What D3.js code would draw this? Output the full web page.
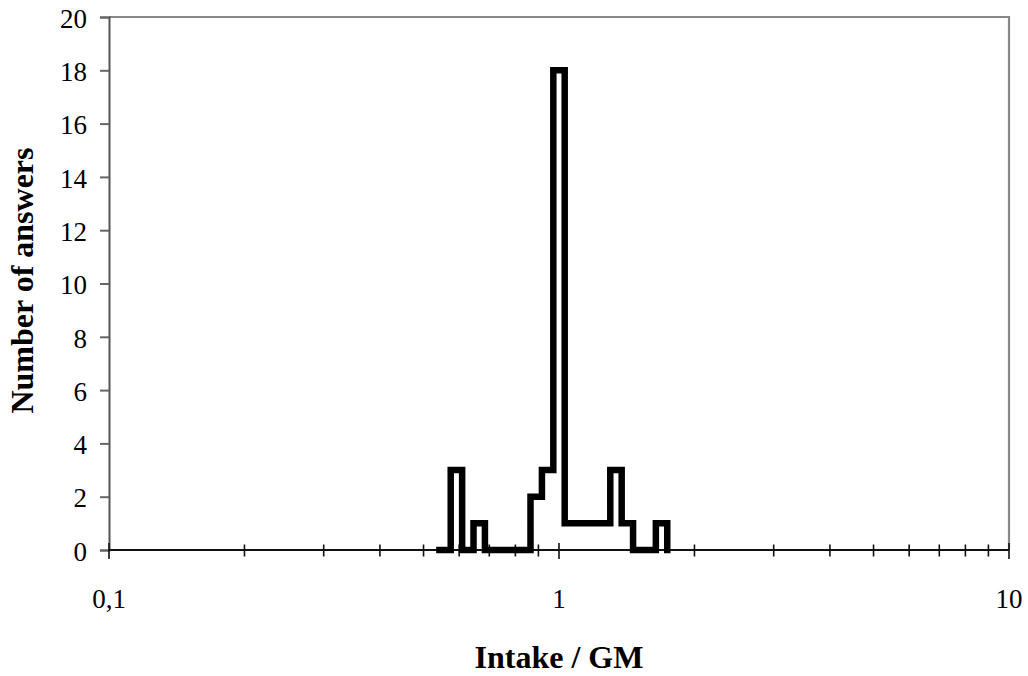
<!DOCTYPE html>
<html>
<head>
<meta charset="utf-8">
<script src="https://cdn.jsdelivr.net/npm/d3@7"></script>
<style>
  html, body { margin: 0; padding: 0; background: #fff; }
  svg { display: block; font-family: "Liberation Serif", "Times New Roman", serif; }
</style>
</head>
<body>
<svg id="chart" width="1028" height="676"></svg>
<script>
// Bin edges of the Intake / GM ratio (log-spaced bins, ratio ~1.06)
const binEdges = [0.5424, 0.5746, 0.6092, 0.6457, 0.6845, 0.7256, 0.7692, 0.8153,
  0.8643, 0.9163, 0.9713, 1.0296, 1.0913, 1.1569, 1.2264, 1.3000, 1.3781,
  1.4608, 1.5485, 1.6414, 1.7400];
// Number of answers falling in each bin
const counts = [0, 3, 0, 1, 0, 0, 0, 0, 2, 3, 18, 1, 1, 1, 1, 3, 1, 0, 0, 1];

const xTickValues = [0.1, 0.2, 0.3, 0.4, 0.5, 0.6, 0.7, 0.8, 0.9,
  1, 2, 3, 4, 5, 6, 7, 8, 9, 10];
const xLabelValues = [0.1, 1, 10];
const xLabelText = ["0,1", "1", "10"];
const yTickValues = [0, 2, 4, 6, 8, 10, 12, 14, 16, 18, 20];

const margin = { left: 109, top: 17, right: 1028 - 1009, bottom: 676 - 550 };
const W = 1028, H = 676;
const svg = d3.select("#chart");

const x = d3.scaleLog().domain([0.1, 10]).range([margin.left, W - margin.right]);
const y = d3.scaleLinear().domain([0, 20]).range([H - margin.bottom, margin.top]);

// Plot-area frame (top and right edges)
svg.append("path")
  .attr("d", `M${x(0.1)},${y(20)} H${x(10)} V${y(0)}`)
  .attr("fill", "none").attr("stroke", "#878787").attr("stroke-width", 2.2);

// Y axis
const yAxis = svg.append("g").attr("transform", `translate(${x(0.1)},0)`)
  .call(d3.axisLeft(y).tickValues(yTickValues).tickSize(9).tickPadding(13)
    .tickFormat(d3.format("d")));
yAxis.select(".domain").attr("stroke", "#555").attr("stroke-width", 2);
yAxis.selectAll(".tick line").attr("stroke", "#666").attr("stroke-width", 2);
yAxis.selectAll(".tick text")
  .attr("font-size", 27).attr("fill", "#000")
  .attr("font-family", "Liberation Serif, Times New Roman, serif")
  .attr("dy", "0.38em");

// X axis line with crossing tick marks
const xg = svg.append("g");
xg.append("line")
  .attr("x1", x(0.1)).attr("x2", x(10))
  .attr("y1", y(0)).attr("y2", y(0))
  .attr("stroke", "#111").attr("stroke-width", 2);
xg.selectAll("line.tick").data(xTickValues).join("line")
  .attr("class", "tick")
  .attr("x1", d => x(d)).attr("x2", d => x(d))
  .attr("y1", d => y(0) - (xLabelValues.includes(d) ? 7 : 5.5))
  .attr("y2", d => y(0) + (xLabelValues.includes(d) ? 9 : 6.5))
  .attr("stroke", "#111").attr("stroke-width", 1.6);
xg.selectAll("text").data(xLabelValues).join("text")
  .attr("x", d => x(d)).attr("y", 608)
  .attr("text-anchor", "middle")
  .attr("font-size", 27)
  .text((d, i) => xLabelText[i]);

// Step outline of the histogram
const pts = counts.map((c, i) => [binEdges[i], c]);
pts.push([binEdges[binEdges.length - 1], counts[counts.length - 1]]);
pts.push([binEdges[binEdges.length - 1], 0]);
const line = d3.line().x(d => x(d[0])).y(d => y(d[1])).curve(d3.curveStepAfter);
svg.append("path")
  .attr("d", line(pts))
  .attr("fill", "none").attr("stroke", "#000")
  .attr("stroke-width", 6.5)
  .attr("stroke-linejoin", "miter").attr("stroke-linecap", "square");

// Axis titles
svg.append("text")
  .attr("x", x(1)).attr("y", 668)
  .attr("text-anchor", "middle")
  .attr("font-size", 32).attr("font-weight", "bold")
  .text("Intake / GM");
svg.append("text")
  .attr("transform", `translate(33,${(y(0) + y(20)) / 2 - 3}) rotate(-90)`)
  .attr("text-anchor", "middle")
  .attr("font-size", 32).attr("font-weight", "bold")
  .text("Number of answers");
</script>
</body>
</html>
